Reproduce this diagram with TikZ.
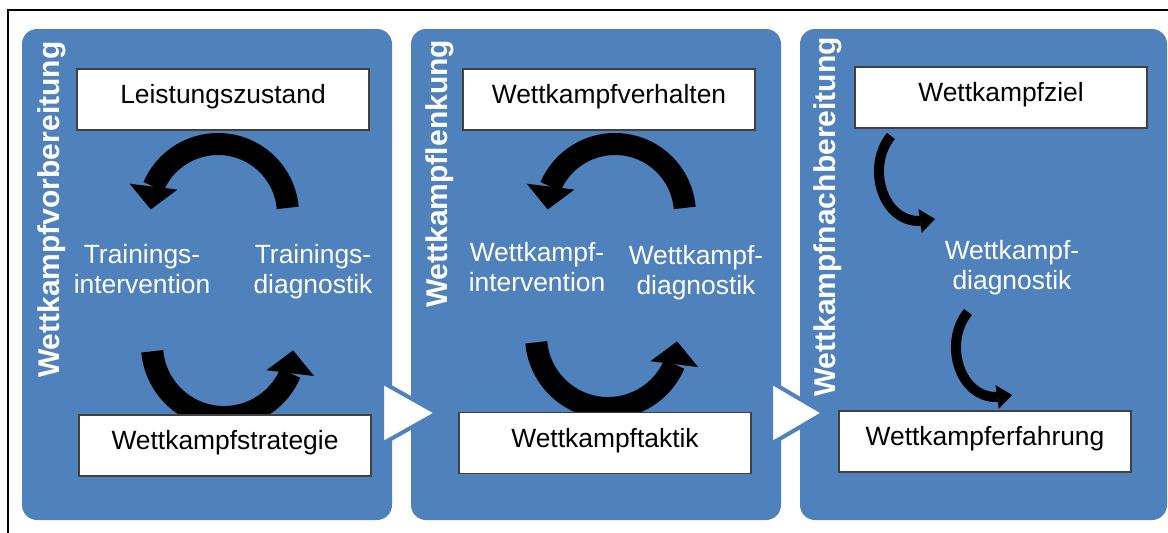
\documentclass[tikz,border=0pt]{standalone}
\usepackage{fontspec}
\setmainfont{Liberation Sans}
\usetikzlibrary{arrows.meta}
\definecolor{panelblue}{RGB}{79,129,189}
\definecolor{boxline}{RGB}{64,64,64}
\begin{document}
\begin{tikzpicture}[x=1pt,y=-1pt,
	phase/.style={fill=panelblue, rounded corners=15pt},
	chevron/.style={fill=white, draw=panelblue, line width=4pt, line join=miter},
	stage/.style={draw=boxline, line width=1.2pt, fill=white, minimum width=292pt, minimum height=61pt, inner sep=0pt, text height=18pt, text depth=10pt, font=\fontsize{26.4}{30}\selectfont},
	lbl/.style={text=white, align=center, inner sep=0pt, anchor=north, font=\fontsize{26.4}{30}\selectfont},
	phasetitle/.style={text=white, rotate=90, anchor=base west, inner sep=0pt, font=\bfseries\fontsize{30}{36}\selectfont},
	cycarrow/.style={line width=22pt, -{Triangle[width=48pt,length=23pt,line width=0pt]}},
	bendarrow/.style={line width=10pt, -{Triangle[width=24pt,length=15pt,line width=0pt]}}]
	\useasboundingbox (0,0) rectangle (1168,533);
	\draw [line width=1.5pt] (8,533) -- (8,10) -- (1168,10);
	\fill [phase] (22,29) rectangle (392,520);
	\fill [phase] (411,29) rectangle (781,520);
	\fill [phase] (800,29) rectangle (1167,520);
	\filldraw [chevron] (382,382) -- (437,413) -- (382,444) -- cycle;
	\filldraw [chevron] (771,382) -- (824,413) -- (771,444) -- cycle;
	\node [phasetitle] (prep) at (59,378) {Wettkampfvorbereitung};
	\node [phasetitle] (lead) at (447,308) {Wettkampflenkung};
	\node [phasetitle] (post) at (835,397) {Wettkampfnachbereitung};
	\draw [cycarrow] (287.7,207.9) arc [start angle=-5, end angle=-157, radius=70] -- ++(97:23);
	\draw [cycarrow] (152.3,351.3) arc [start angle=175, end angle=23, radius=72] -- ++(-83:23);
	\draw [cycarrow] (684.7,207.9) arc [start angle=-5, end angle=-157, radius=70] -- ++(97:23);
	\draw [cycarrow] (536.3,342.3) arc [start angle=175, end angle=23, radius=72] -- ++(-83:23);
	\draw [bendarrow] (891,136) .. controls (866,166) and (882,222) .. (920,221) -- (935,219);
	\draw [bendarrow] (968,312) .. controls (943,342) and (959,398) .. (997,397) -- (1012,395);
	\node [lbl] (tint) at (142,244) {Trainings-\\intervention};
	\node [lbl] (tdia) at (313,244) {Trainings-\\diagnostik};
	\node [lbl] (wint) at (537,242) {Wettkampf-\\intervention};
	\node [lbl] (wdia) at (696,245) {Wettkampf-\\diagnostik};
	\node [lbl] (ndia) at (1012,240) {Wettkampf-\\diagnostik};
	\node [stage] (zust) at (223,99.5) {Leistungszustand};
	\node [stage] (strat) at (225,445.5) {Wettkampfstrategie};
	\node [stage] (verh) at (609,99.5) {Wettkampfverhalten};
	\node [stage] (takt) at (605,443) {Wettkampftaktik};
	\node [stage] (ziel) at (1001,97.5) {Wettkampfziel};
	\node [stage] (erf) at (985,441.5) {Wettkampferfahrung};
\end{tikzpicture}
\end{document}
